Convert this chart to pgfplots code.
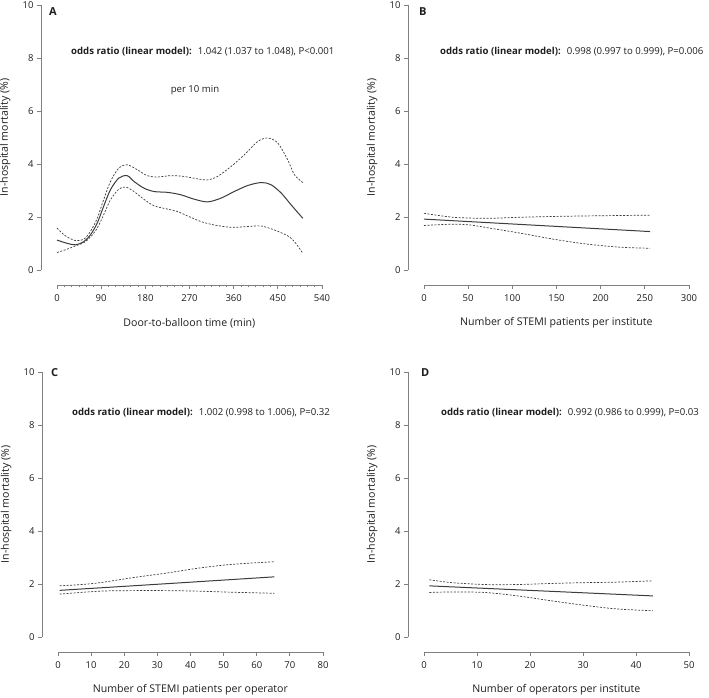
\documentclass[border=0pt]{standalone}
\usepackage{pgfplots}
\pgfplotsset{compat=1.18}
\usepackage{fontspec}
\setmainfont{Open Sans}

\definecolor{axgray}{HTML}{808080}
\definecolor{curve}{HTML}{3C3C3C}
\definecolor{txt}{HTML}{1E1E1E}

\pgfplotsset{
    rpanel/.style={
        scale only axis,
        anchor = south west,
        width  = 281pt,
        height = 280pt,
        ymin = -0.566, ymax = 10,
        ytick = {0,2,...,10},
        axis x line* = bottom,
        axis y line* = left,
        axis line style = {draw=none},
        tick align = outside,
        major tick length = 4pt,
        minor tick length = 2.5pt,
        every tick/.style = {axgray, line width=0.8pt},
        tick label style = {font=\fontsize{9.5}{11}\selectfont, text=txt},
        xticklabel style = {yshift=-2pt},
        /pgf/number format/assume math mode = true,
        label style = {font=\fontsize{10.6}{12}\selectfont, text=txt},
        xlabel style = {at={(rel axis cs:0.528,0)}, anchor=center, yshift=-38pt},
        ylabel style = {at={([xshift=-36pt]rel axis cs:0,0.527)}, anchor=center},
        ylabel = {In-hospital mortality (\%)},
        clip = false,
    },
    mid/.style  = {curve, line width=1.0pt},
    band/.style = {curve, line width=0.7pt, dash pattern=on 2pt off 1.5pt},
}

% R-style detached axis lines
\newcommand{\raxes}{%
    \draw[axgray, line width=0.8pt]
        (axis cs:0,-0.566) -- (axis cs:\pgfkeysvalueof{/pgfplots/xmax},-0.566);
    \draw[axgray, line width=0.8pt]
        (axis cs:\pgfkeysvalueof{/pgfplots/xmin},0) -- (axis cs:\pgfkeysvalueof{/pgfplots/xmin},10);
}

\begin{document}
\begin{tikzpicture}
\useasboundingbox (0,0) rectangle (709pt,698pt);

% ---------------- A: door-to-balloon time
\begin{axis}[rpanel,
    at = {(41pt,413pt)},
    xmin = -32.6, xmax = 540,
    xtick = {0,90,...,540},
    minor x tick num = 5,
    xlabel = {Door-to-balloon time (min)},
]
\addplot[mid, smooth] coordinates {
    (0,1.13) (20,1.01) (37.5,0.95) (54.5,1.07) (68,1.32) (82,1.77) (95,2.40)
    (109,3.03) (126,3.47) (143,3.56) (157,3.34) (177,3.09) (198,2.96)
    (225,2.93) (252,2.84) (280,2.67) (307,2.57) (334,2.71) (361,2.96)
    (389,3.19) (416,3.30) (436,3.22) (457,2.90) (477,2.46) (501,1.95)
};
\addplot[band, smooth] coordinates {
    (0,1.58) (17,1.29) (37.5,1.11) (54.5,1.16) (68,1.45) (82,1.95) (95,2.65)
    (109,3.34) (126,3.85) (143,3.97) (164,3.78) (184,3.56) (205,3.51)
    (232,3.56) (259,3.53) (286,3.44) (307,3.40) (327,3.53) (355,3.91)
    (382,4.35) (409,4.85) (430,4.98) (450,4.79) (470,4.16) (484,3.59) (501,3.30)
};
\addplot[band, smooth] coordinates {
    (0,0.66) (20,0.78) (37.5,0.91) (54.5,1.03) (68,1.24) (82,1.58) (95,2.08)
    (109,2.65) (126,3.05) (140,3.13) (157,2.96) (177,2.67) (198,2.42)
    (225,2.30) (245,2.21) (266,2.04) (293,1.83) (320,1.70) (355,1.61)
    (389,1.64) (416,1.66) (443,1.51) (470,1.29) (484,1.07) (501,0.63)
};
\raxes
\end{axis}

% ---------------- B: patients per institute
\begin{axis}[rpanel,
    at = {(408pt,413pt)},
    xmin = -18.1, xmax = 300,
    xtick = {0,50,...,300},
    xlabel = {Number of STEMI patients per institute},
]
\addplot[mid] coordinates {(0,1.92) (256,1.45)};
\addplot[band, smooth] coordinates {
    (0,2.14) (33,1.99) (71,1.95) (109,1.99) (147,2.02) (184,2.04) (256,2.07)
};
\addplot[band, smooth] coordinates {
    (0,1.68) (33,1.73) (52,1.70) (71,1.60) (109,1.39) (147,1.16) (184,0.98)
    (222,0.86) (256,0.82)
};
\raxes
\end{axis}

% ---------------- C: patients per operator
\begin{axis}[rpanel,
    at = {(42pt,46pt)},
    xmin = -4.83, xmax = 80,
    xtick = {0,10,...,80},
    xlabel = {Number of STEMI patients per operator},
]
\addplot[mid] coordinates {(0.5,1.76) (32.6,2.01) (65.3,2.27)};
\addplot[band, smooth] coordinates {
    (0.5,1.93) (7,1.98) (12.7,2.05) (22.6,2.24) (32.6,2.41) (42.5,2.60)
    (52.4,2.74) (65.3,2.84)
};
\addplot[band, smooth] coordinates {
    (0.5,1.62) (12.7,1.73) (22.6,1.75) (32.6,1.75) (42.5,1.73) (52.4,1.69)
    (65.3,1.65)
};
\raxes
\end{axis}

% ---------------- D: operators per institute
\begin{axis}[rpanel,
    at = {(408pt,46pt)},
    xmin = -3.02, xmax = 50,
    xtick = {0,10,...,50},
    xlabel = {Number of operators per institute},
]
\addplot[mid] coordinates {(1,1.93) (43.2,1.55)};
\addplot[band, smooth] coordinates {
    (1,2.16) (5.3,2.05) (11.5,1.98) (17.7,1.98) (23.9,2.02) (30.1,2.05)
    (36.3,2.07) (43.2,2.12)
};
\addplot[band, smooth] coordinates {
    (1,1.68) (5.3,1.70) (11.5,1.68) (17.7,1.55) (23.9,1.37) (30.1,1.20)
    (36.3,1.06) (43.2,0.99)
};
\raxes
\end{axis}

% ---------------- panel letters and annotations
\begin{scope}[every node/.style={text=txt, font=\fontsize{9.6}{11}\selectfont, inner sep=0pt}]
\node[anchor=west, font=\fontsize{11}{12}\selectfont\bfseries] at (49pt,686pt)  {A};
\node[anchor=west, font=\fontsize{11}{12}\selectfont\bfseries] at (419pt,686pt) {B};
\node[anchor=west, font=\fontsize{11}{12}\selectfont\bfseries] at (51pt,325pt)  {C};
\node[anchor=west, font=\fontsize{11}{12}\selectfont\bfseries] at (421pt,325pt) {D};

\node[anchor=west] at (71pt,646pt)
    {\textbf{odds ratio (linear model):}\hspace{6pt}1.042 (1.037 to 1.048), P<0.001};
\node at (195pt,608pt) {per 10 min};
\node[anchor=west] at (440pt,646pt)
    {\textbf{odds ratio (linear model):}\hspace{6pt}0.998 (0.997 to 0.999), P=0.006};
\node[anchor=west] at (72pt,285pt)
    {\textbf{odds ratio (linear model):}\hspace{6pt}1.002 (0.998 to 1.006), P=0.32};
\node[anchor=west] at (441pt,285pt)
    {\textbf{odds ratio (linear model):}\hspace{6pt}0.992 (0.986 to 0.999), P=0.03};
\end{scope}
\end{tikzpicture}
\end{document}
